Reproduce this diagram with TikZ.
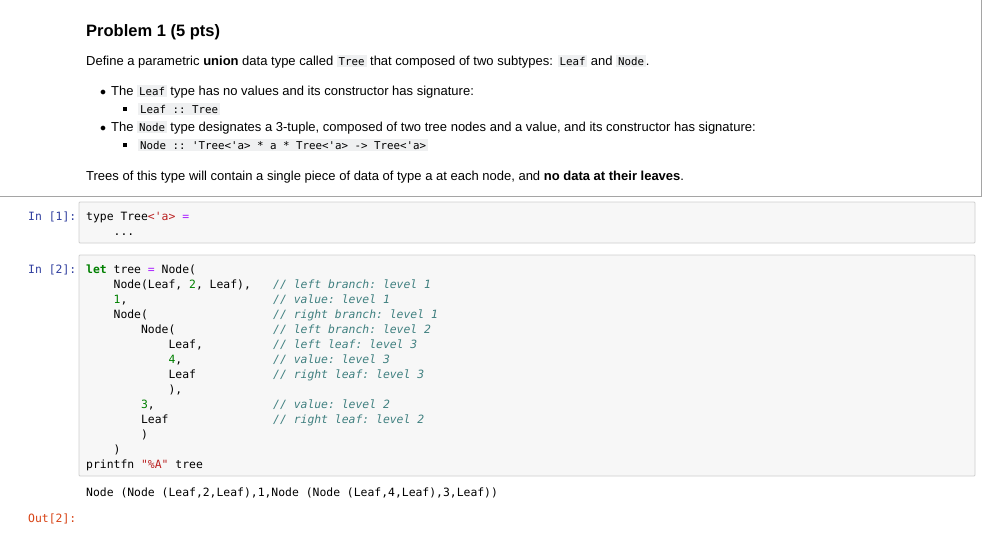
\documentclass[tikz,border=0pt]{standalone}
\usepackage{fontspec}
\setmainfont{Liberation Sans}
\setmonofont{DejaVu Sans Mono}
\definecolor{codebg}{HTML}{EFF0F1}
\definecolor{cellbg}{HTML}{F7F7F7}
\definecolor{cellbd}{HTML}{CFCFCF}
\definecolor{inc}{HTML}{303F9F}
\definecolor{outc}{HTML}{D84315}
\definecolor{kw}{HTML}{008000}
\definecolor{op}{HTML}{AA22FF}
\definecolor{num}{HTML}{008000}
\definecolor{str}{HTML}{BA2121}
\definecolor{cm}{HTML}{408080}
\newcommand{\ic}[1]{{\setlength{\fboxsep}{1.8pt}\colorbox{codebg}{\fontsize{10.8}{12}\ttfamily #1}}}
\newcommand{\kwd}[1]{\textcolor{kw}{\bfseries #1}}
\newcommand{\nm}[1]{\textcolor{num}{#1}}
\newcommand{\opr}[1]{\textcolor{op}{#1}}
\begin{document}
\begin{tikzpicture}[x=1pt,y=-1pt,
  txt/.style={anchor=base west,inner sep=0pt,font=\fontsize{13}{15}\selectfont},
  code/.style={anchor=base west,inner sep=0pt,font=\fontsize{11.4}{12}\ttfamily},
  cmt/.style={anchor=base west,inner sep=0pt,font=\fontsize{11.4}{12}\ttfamily\itshape,text=cm},
  prompt/.style={anchor=base west,inner sep=0pt,font=\fontsize{11.4}{12}\ttfamily},
  sq/.style={fill=black,inner sep=0pt,minimum size=4pt},
  cell/.style={draw=cellbd,fill=cellbg,line width=0.8pt,rounded corners=1pt}]
\useasboundingbox (0,0) rectangle (992,555);
\fill[white] (0,0) rectangle (992,555);
\draw[cellbd!80!black,line width=0.8pt] (0,196) -- (981,196) -- (981,0);
\node[txt,font=\fontsize{16.5}{18}\bfseries] (title) at (86,36) {Problem 1 (5 pts)};
\node[txt] (l1) at (86,65) {Define a parametric \textbf{union} data type called \ic{Tree} that composed of two subtypes: \ic{Leaf} and \ic{Node}.};
\node[txt] (b1) at (100,95) {$\bullet$};
\node[txt] (l2) at (111,95) {The \ic{Leaf} type has no values and its constructor has signature:};
\node[sq] (b2) at (124.5,109) {};
\node[txt] (l3) at (138,113) {\ic{Leaf :: Tree}};
\node[txt] (b3) at (100,131) {$\bullet$};
\node[txt] (l4) at (111,131) {The \ic{Node} type designates a 3-tuple, composed of two tree nodes and a value, and its constructor has signature:};
\node[sq] (b4) at (124.5,145) {};
\node[txt] (l5) at (138,149) {\ic{Node :: 'Tree<'a> * a * Tree<'a> -> Tree<'a>}};
\node[txt] (l6) at (86,180) {Trees of this type will contain a single piece of data of type a at each node, and \textbf{no data at their leaves}.};
\draw[cell] (79,202) rectangle (975,243);
\node[prompt,text=inc] (p1) at (28,220) {In [1]:};
\node[code] (c1a) at (86,220) {type Tree\textcolor{str}{<'a>} \opr{=}};
\node[code] (c1b) at (86,235) {\ \ \ \ ...};
\draw[cell] (79,255) rectangle (975,476);
\node[prompt,text=inc] (p2) at (28,273) {In [2]:};
\node[code] (k1) at (86,273) {\kwd{let} tree \opr{=} Node(};
\node[code] (k2) at (86,288) {\ \ \ \ Node(Leaf, \nm{2}, Leaf),};
\node[code] (k3) at (86,303) {\ \ \ \ \nm{1},};
\node[code] (k4) at (86,318) {\ \ \ \ Node(};
\node[code] (k5) at (86,333) {\ \ \ \ \ \ \ \ Node(};
\node[code] (k6) at (86,348) {\ \ \ \ \ \ \ \ \ \ \ \ Leaf,};
\node[code] (k7) at (86,363) {\ \ \ \ \ \ \ \ \ \ \ \ \nm{4},};
\node[code] (k8) at (86,378) {\ \ \ \ \ \ \ \ \ \ \ \ Leaf};
\node[code] (k9) at (86,393) {\ \ \ \ \ \ \ \ \ \ \ \ ),};
\node[code] (k10) at (86,408) {\ \ \ \ \ \ \ \ \nm{3},};
\node[code] (k11) at (86,423) {\ \ \ \ \ \ \ \ Leaf};
\node[code] (k12) at (86,438) {\ \ \ \ \ \ \ \ )};
\node[code] (k13) at (86,453) {\ \ \ \ )};
\node[code] (k14) at (86,468) {printfn \textcolor{str}{"\%A"} tree};
\node[cmt] (m2) at (273,288) {// left branch: level 1};
\node[cmt] (m3) at (273,303) {// value: level 1};
\node[cmt] (m4) at (273,318) {// right branch: level 1};
\node[cmt] (m5) at (273,333) {// left branch: level 2};
\node[cmt] (m6) at (273,348) {// left leaf: level 3};
\node[cmt] (m7) at (273,363) {// value: level 3};
\node[cmt] (m8) at (273,378) {// right leaf: level 3};
\node[cmt] (m10) at (273,408) {// value: level 2};
\node[cmt] (m11) at (273,423) {// right leaf: level 2};
\node[code] (o1) at (86,496) {Node (Node (Leaf,2,Leaf),1,Node (Node (Leaf,4,Leaf),3,Leaf))};
\node[prompt,text=outc] (p3) at (28,522) {Out[2]:};
\end{tikzpicture}
\end{document}
